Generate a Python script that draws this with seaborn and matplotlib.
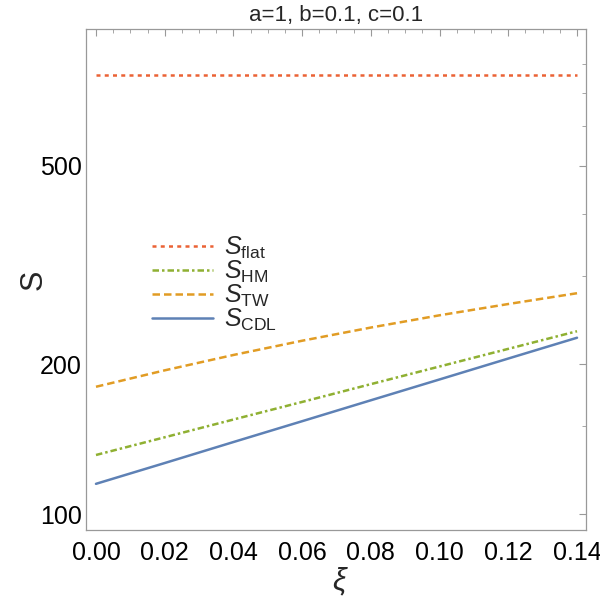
import matplotlib
matplotlib.use("Agg")
import matplotlib.pyplot as plt
import matplotlib.ticker as mticker
import pandas as pd
import seaborn as sns

sns.set_style("white")
plt.rcParams['font.family'] = ['Liberation Sans', 'DejaVu Sans']
plt.rcParams['mathtext.fontset'] = 'custom'
plt.rcParams['mathtext.rm'] = 'Liberation Sans'
plt.rcParams['mathtext.it'] = 'Liberation Sans:italic'

# values
xi = [0.00, 0.02, 0.04, 0.06, 0.08, 0.10, 0.12, 0.14]
s_flat = [760, 760, 760, 760, 760, 760, 760, 760]
s_hm = [131.4, 142.6, 154.8, 167.9, 182.3, 197.8, 214.6, 232.8]
s_tw = [180.1, 194.3, 208.6, 222.8, 236.8, 250.6, 264.0, 277.5]
s_cdl = [115.0, 126.6, 139.5, 153.6, 169.2, 186.3, 205.2, 225.9]

labels = [r'$S_{\rm flat}$', r'$S_{\rm HM}$', r'$S_{\rm TW}$', r'$S_{\rm CDL}$']
series = [s_flat, s_hm, s_tw, s_cdl]
colors = ['#EB6235', '#8FB032', '#E19C24', '#5E81B5']
styles = [(0, (1.6, 1.7)), (0, (2.6, 1.2, 1.0, 1.2)), (0, (3.0, 1.6)), '-']

fig = plt.figure(figsize=(6, 6.09), dpi=100)
ax = fig.add_axes([0.1433, 0.1297, 0.8334, 0.8227])

for lab, vals, col, ls in zip(labels, series, colors, styles):
    d = pd.DataFrame({'xi': xi, 'S': vals})
    sns.lineplot(data=d, x='xi', y='S', ax=ax, color=col, linestyle=ls,
                 linewidth=1.8, label=lab)

ax.set_yscale('log')
ax.set_xlim(-0.00291, 0.14262)
ax.set_ylim(92.9, 941)
ax.set_yticks([100, 200, 500])
ax.set_yticklabels(['100', '200', '500'])
ax.yaxis.set_minor_locator(mticker.FixedLocator([150, 300, 400, 600, 700, 800]))
ax.yaxis.set_minor_formatter(mticker.NullFormatter())
ax.set_xticks([0.00, 0.02, 0.04, 0.06, 0.08, 0.10, 0.12, 0.14])
ax.set_xticklabels(['0.00', '0.02', '0.04', '0.06', '0.08', '0.10', '0.12', '0.14'])
ax.xaxis.set_minor_locator(mticker.MultipleLocator(0.005))

ax.tick_params(which='both', direction='in', top=True, right=True,
               color='#999999', labelsize=18, labelcolor='black')
ax.tick_params(axis='x', which='major', length=5, width=0.8, pad=8)
ax.tick_params(axis='x', which='minor', length=3, width=0.6)
ax.tick_params(axis='y', which='major', length=5, width=0.8, pad=3)
ax.tick_params(axis='y', which='minor', length=3, width=0.6)
for sp in ax.spines.values():
    sp.set_color('#999999')
    sp.set_linewidth(0.9)

ax.set_title('a=1, b=0.1, c=0.1', fontsize=16, pad=5.5)
ax.set_xlabel(r'$\xi$', fontsize=22)
ax.xaxis.set_label_coords(0.508, -0.072)
ax.set_ylabel('S', fontsize=22, rotation=90)
ax.yaxis.set_label_coords(-0.074, 0.5)

leg = ax.legend(loc='upper left', bbox_to_anchor=(0.112, 0.61), frameon=False,
                fontsize=18, handlelength=2.45, handletextpad=0.42,
                labelspacing=-0.08, borderaxespad=0)

fig.savefig('out.png', dpi=100)
